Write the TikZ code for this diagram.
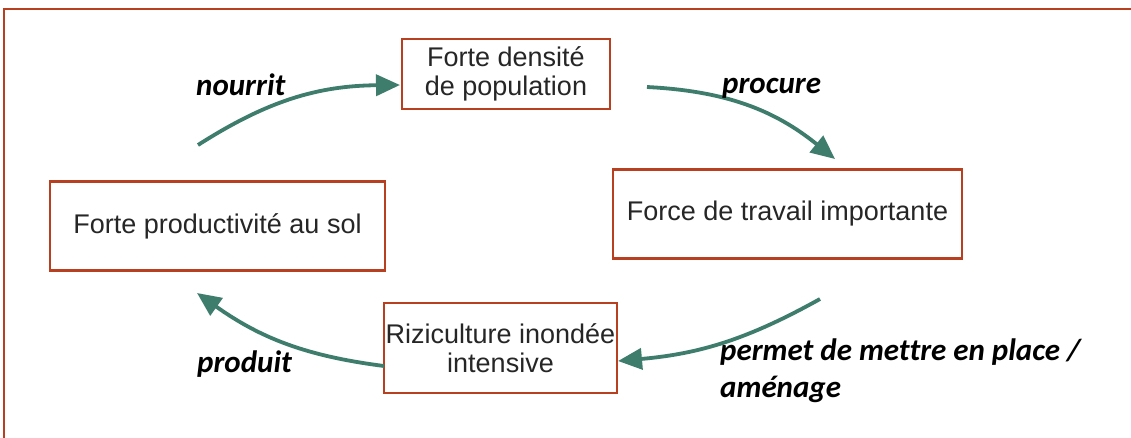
\documentclass[tikz,border=0pt]{standalone}
\usepackage{fontspec}
\setmainfont{Liberation Sans}
\newfontfamily\labfont[Ligatures={NoCommon}]{Carlito}
\usetikzlibrary{arrows.meta}
\definecolor{boxred}{RGB}{184,64,32}
\definecolor{teal}{RGB}{62,124,108}
\tikzset{
  box/.style={draw=boxred, line width=2.6pt, inner sep=0pt, align=center,
    font=\fontsize{27}{29}\selectfont, text=black!85},
  lab/.style={anchor=base west, inner sep=0pt,
    font=\labfont\bfseries\itshape\fontsize{31}{37}\selectfont},
  arr/.style={draw=teal, line width=3.8pt,
    -{Triangle[length=24pt,width=21pt]}},
}
\begin{document}
\begin{tikzpicture}[x=1pt,y=-1pt]
\useasboundingbox (0,0) rectangle (1131,437);
\fill[white] (0,0) rectangle (1131,437);
% outer frame
\draw[boxred, line width=2.8pt] (4,445) -- (4,9) -- (1140,9);
% boxes
\node[box, minimum width=208pt, minimum height=70pt] (top) at (506,74) {Forte densité\\de population};
\node[box, minimum width=335pt, minimum height=89pt] (left) at (217.5,226) {Forte productivité au sol};
\node[box, minimum width=349pt, minimum height=89pt] (right) at (787.5,214) {Force de travail importante};
\node[box, minimum width=233pt, minimum height=90pt] (bot) at (500.5,348) {Riziculture inondée\\intensive};
% arrow end points
\coordinate (nS) at (198,145);
\coordinate (nE) at (400,85);
\coordinate (pS) at (647,87);
\coordinate (pE) at (835,159);
\coordinate (mS) at (820,299);
\coordinate (mE) at (618,361);
\coordinate (dS) at (384,366);
\coordinate (dE) at (197,293);
\draw[arr] (nS) to[bend left=16] (nE);
\draw[arr] (pS) to[bend left=18] (pE);
\draw[arr] (mS) to[bend left=12] (mE);
\draw[arr] (dS) to[bend left=14] (dE);
% labels
\node[lab] (lnour) at (196,95) {nourrit};
\node[lab] (lproc) at (722,93) {procure};
\node[lab] (lperm) at (720,360) {permet de mettre en place /};
\node[lab] (lamen) at (720,397) {aménage};
\node[lab] (lprod) at (197,372) {produit};
\end{tikzpicture}
\end{document}
